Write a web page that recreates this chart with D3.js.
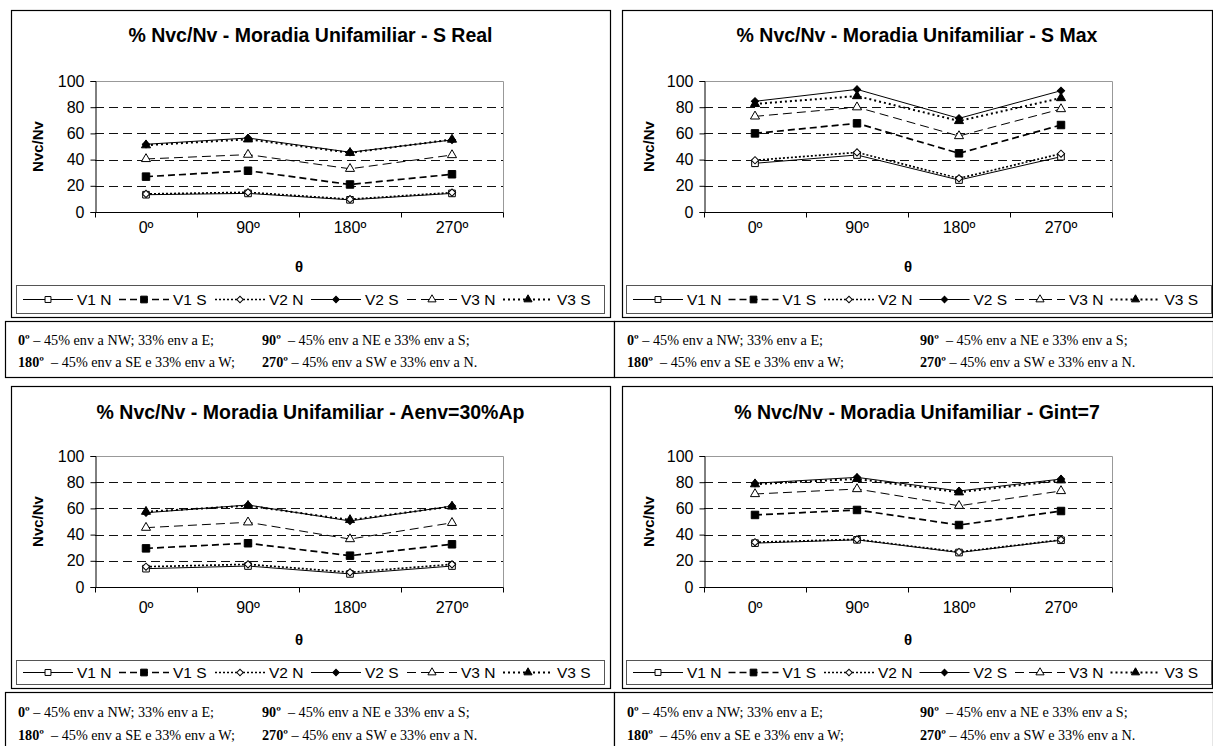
<!DOCTYPE html>
<html><head><meta charset="utf-8">
<script src="https://cdn.jsdelivr.net/npm/d3@7"></script>
<style>body{margin:0;background:#fff}svg{display:block}</style>
</head><body><svg id="c" width="1213" height="746"></svg>
<script>
// ---------- data ----------
const categories = ["0º", "90º", "180º", "270º"];
const seriesNames = ["V1 N", "V1 S", "V2 N", "V2 S", "V3 N", "V3 S"];
const yTickValues = [0, 20, 40, 60, 80, 100];
const chartTitles = [
  "% Nvc/Nv - Moradia Unifamiliar - S Real",
  "% Nvc/Nv - Moradia Unifamiliar - S Max",
  "% Nvc/Nv - Moradia Unifamiliar - Aenv=30%Ap",
  "% Nvc/Nv - Moradia Unifamiliar - Gint=7"
];
const xAxisTitle = "θ";
const yAxisTitle = "Nvc/Nv";

// values per chart, in series order V1 N, V1 S, V2 N, V2 S, V3 N, V3 S
const sRealValues = [
  [13.2, 14.2, 9.3, 14.2],
  [27.0, 31.5, 21.0, 28.8],
  [13.8, 15.0, 9.8, 14.8],
  [51.7, 56.5, 45.6, 55.0],
  [40.5, 43.8, 33.0, 43.5],
  [51.0, 55.5, 45.2, 55.3]
];
const sMaxValues = [
  [37.2, 43.5, 24.4, 42.2],
  [60.0, 67.7, 44.8, 66.4],
  [39.5, 45.5, 25.7, 44.5],
  [84.5, 93.6, 71.5, 92.6],
  [73.0, 80.0, 58.0, 78.6],
  [82.5, 88.5, 69.5, 87.0]
];
const aenvValues = [
  [14.0, 16.0, 10.0, 16.0],
  [29.5, 33.4, 23.9, 32.6],
  [15.5, 17.3, 11.2, 17.3],
  [56.7, 62.6, 50.4, 61.8],
  [45.3, 49.4, 36.6, 49.0],
  [57.5, 62.0, 51.2, 61.5]
];
const gintValues = [
  [33.5, 36.0, 26.3, 35.7],
  [55.0, 58.8, 47.3, 58.0],
  [34.2, 36.4, 26.7, 36.0],
  [79.2, 83.7, 73.3, 82.4],
  [71.0, 74.8, 62.0, 73.3],
  [78.5, 82.5, 72.3, 81.5]
];
const captionPrefixes = ["0º", "90º", "180º", "270º"];
const captionTexts = [
  " – 45% env a NW; 33% env a E;",
  "  – 45% env a NE e 33% env a S;",
  "  – 45% env a SE e 33% env a W;",
  " – 45% env a SW e 33% env a N."
];

// ---------- styles & layout ----------
const seriesStyles = [
  {dash: null,  w: 1,   sym: "square",   fill: "#fff", size: 44},
  {dash: "7,4", w: 1.7, sym: "square",   fill: "#000", size: 56},
  {dash: "2,2", w: 1.7, sym: "diamond",  fill: "#fff", size: 26},
  {dash: null,  w: 1,   sym: "diamond",  fill: "#000", size: 26},
  {dash: "9,5", w: 1,   sym: "triangle", fill: "#fff", size: 36},
  {dash: "2,3", w: 2,   sym: "triangle", fill: "#000", size: 36}
];
const SANS = "'Liberation Sans', Arial, sans-serif";
const SERIF = "'Liberation Serif', 'Times New Roman', serif";

const layouts = [
  {values: sRealValues, title: chartTitles[0], box: [11, 10, 610, 317], plot: [95, 81, 503, 212], titleY: 35, tickY: 227, thetaY: 267, legend: [16, 285, 604, 313]},
  {values: sMaxValues,  title: chartTitles[1], box: [622, 10, 1212, 317], plot: [704, 81, 1112, 212], titleY: 35, tickY: 227, thetaY: 267, legend: [626, 285, 1211, 313]},
  {values: aenvValues,  title: chartTitles[2], box: [11, 386, 610, 688], plot: [95, 456, 503, 587], titleY: 412, tickY: 607, thetaY: 640, legend: [16, 660, 604, 684]},
  {values: gintValues,  title: chartTitles[3], box: [622, 386, 1212, 688], plot: [704, 456, 1112, 587], titleY: 412, tickY: 607, thetaY: 640, legend: [626, 660, 1211, 684]}
];
const captionBoxes = [
  {x0: 5, x1: 614, y0: 321, y1: 377, line1: 340, line2: 362, col2: 257},
  {x0: 614, x1: 1213, y0: 321, y1: 377, line1: 340, line2: 362, col2: 306},
  {x0: 5, x1: 614, y0: 692, y1: 760, line1: 712, line2: 735, col2: 257},
  {x0: 614, x1: 1213, y0: 692, y1: 760, line1: 712, line2: 735, col2: 306}
];

const svg = d3.select("#c");

function symPath(name, size) {
  if (name === "triangle") return d3.symbol(d3.symbolTriangle, size)();
  return d3.symbol(d3.symbolSquare, size)();
}
function drawMarker(g, st, x, y, scale) {
  return g.append("path")
    .attr("d", symPath(st.sym, st.size * (scale || 1)))
    .attr("fill", st.fill).attr("stroke", "#000").attr("stroke-width", 1)
    .attr("transform", `translate(${x},${y})` + (st.sym === "diamond" ? " rotate(45)" : ""));
}

layouts.forEach(L => {
  const g = svg.append("g");
  const [bx0, by0, bx1, by1] = L.box;
  g.append("rect").attr("x", bx0 + 0.5).attr("y", by0 + 0.5).attr("width", bx1 - bx0).attr("height", by1 - by0)
    .attr("fill", "#fff").attr("stroke", "#000").attr("stroke-width", 1.2);

  g.append("text").attr("x", (bx0 + bx1) / 2).attr("y", L.titleY).attr("dy", "0.35em")
    .attr("text-anchor", "middle").attr("font-family", SANS).attr("font-weight", "bold").attr("font-size", 19.5)
    .text(L.title);

  const [px0, py0, px1, py1] = L.plot;
  const x = d3.scaleBand().domain(categories).range([px0, px1]);
  const y = d3.scaleLinear().domain([0, 100]).range([py1, py0]);

  // plot frame (top/right gray)
  g.append("path").attr("d", `M${px0},${py0 + 0.5}H${px1 + 0.5}V${py1}`).attr("fill", "none").attr("stroke", "#999").attr("stroke-width", 1);

  // gridlines
  g.selectAll(".grid").data(yTickValues.filter(v => v > 0 && v < 100)).join("line")
    .attr("x1", px0).attr("x2", px1).attr("y1", d => Math.round(y(d)) + 0.5).attr("y2", d => Math.round(y(d)) + 0.5)
    .attr("stroke", "#111").attr("stroke-width", 1).attr("stroke-dasharray", "9,5");

  // y axis
  const yAxis = d3.axisLeft(y).tickValues(yTickValues).tickSize(5).tickPadding(6);
  const ya = g.append("g").attr("transform", `translate(${px0 + 0.5},0)`).call(yAxis);
  ya.select(".domain").attr("stroke", "#000");
  ya.selectAll("text").attr("font-family", SANS).attr("font-size", 16).attr("fill", "#000");

  // x axis
  const xa = g.append("g").attr("transform", `translate(0,${py1 + 0.5})`);
  xa.append("line").attr("x1", px0).attr("x2", px1 + 0.5).attr("stroke", "#000");
  const bounds = categories.map(c => x(c)).concat([x.range()[1]]);
  xa.selectAll(".tk").data(bounds).join("line")
    .attr("x1", d => Math.round(d) + 0.5).attr("x2", d => Math.round(d) + 0.5).attr("y1", 0).attr("y2", 5).attr("stroke", "#000");
  g.selectAll(".xl").data(categories).join("text")
    .attr("x", d => x(d) + x.bandwidth() / 2).attr("y", L.tickY).attr("dy", "0.35em")
    .attr("text-anchor", "middle").attr("font-family", SANS).attr("font-size", 16).text(d => d);

  g.append("text").attr("x", (px0 + px1) / 2).attr("y", L.thetaY).attr("dy", "0.35em")
    .attr("text-anchor", "middle").attr("font-family", SANS).attr("font-weight", "bold").attr("font-size", 15).text(xAxisTitle);

  g.append("text").attr("transform", `translate(${bx0 + 27},${(py0 + py1) / 2}) rotate(-90)`).attr("dy", "0.35em")
    .attr("text-anchor", "middle").attr("font-family", SANS).attr("font-weight", "bold").attr("font-size", 15).text(yAxisTitle);

  // series
  const line = d3.line().x((d, i) => x(categories[i]) + x.bandwidth() / 2).y(d => y(d));
  L.values.forEach((vals, si) => {
    const st = seriesStyles[si];
    g.append("path").attr("d", line(vals)).attr("fill", "none").attr("stroke", "#000")
      .attr("stroke-width", st.w).attr("stroke-dasharray", st.dash);
  });
  L.values.forEach((vals, si) => {
    const st = seriesStyles[si];
    vals.forEach((v, i) => drawMarker(g, st, x(categories[i]) + x.bandwidth() / 2, y(v)));
  });

  // legend
  const [lx0, ly0, lx1, ly1] = L.legend;
  g.append("rect").attr("x", lx0 + 0.5).attr("y", ly0 + 0.5).attr("width", lx1 - lx0).attr("height", ly1 - ly0)
    .attr("fill", "#fff").attr("stroke", "#555").attr("stroke-width", 1);
  const ly = (ly0 + ly1) / 2 + 0.5;
  const pitch = (lx1 - lx0 - 12) / seriesNames.length;
  seriesNames.forEach((name, si) => {
    const st = seriesStyles[si];
    const sx = lx0 + 7 + si * pitch;
    g.append("line").attr("x1", sx).attr("x2", sx + 50).attr("y1", ly).attr("y2", ly)
      .attr("stroke", "#000").attr("stroke-width", st.w).attr("stroke-dasharray", st.dash);
    drawMarker(g, st, sx + 25, ly, 0.8);
    g.append("text").attr("x", sx + 54).attr("y", ly).attr("dy", "0.35em")
      .attr("font-family", SANS).attr("font-size", 15.5).text(name);
  });
});

// captions
captionBoxes.forEach(C => {
  const g = svg.append("g");
  g.append("rect").attr("x", C.x0 + 0.5).attr("y", C.y0 + 0.5).attr("width", C.x1 - C.x0).attr("height", C.y1 - C.y0)
    .attr("fill", "#fff").attr("stroke", "#000").attr("stroke-width", 1.2);
  const pos = [[C.x0 + 13, C.line1], [C.x0 + C.col2, C.line1], [C.x0 + 13, C.line2], [C.x0 + C.col2, C.line2]];
  captionPrefixes.forEach((p, i) => {
    const t = g.append("text").attr("x", pos[i][0]).attr("y", pos[i][1]).attr("dy", "0.35em")
      .attr("font-family", SERIF).attr("font-size", 14.2).style("white-space", "pre");
    t.append("tspan").attr("font-weight", "bold").text(p);
    t.append("tspan").text(captionTexts[i]);
  });
});
</script>
</body></html>
